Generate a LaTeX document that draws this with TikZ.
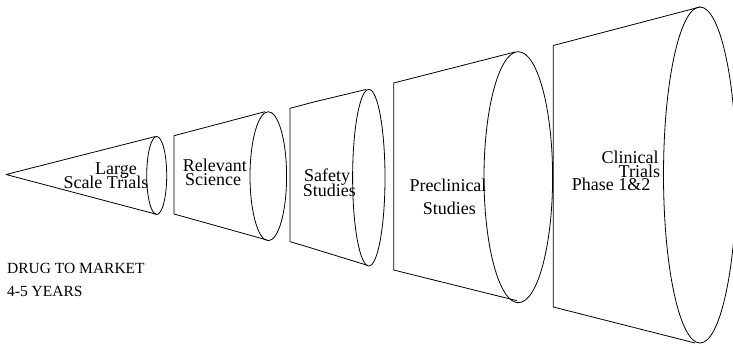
\documentclass[tikz,border=0pt]{standalone}
\usepackage{fontspec}
\setmainfont{Liberation Serif}
\begin{document}
\begin{tikzpicture}[x=1pt,y=-1pt,
  outline/.style={draw=black,line width=0.8pt,line join=round},
  lbl/.style={anchor=base west,inner sep=0pt,font=\fontsize{18}{18}\selectfont},
  note/.style={anchor=base west,inner sep=0pt,font=\fontsize{15.5}{15.5}\selectfont}]
\useasboundingbox (0,0) rectangle (733,344);
\clip (0,0) rectangle (733,344);
% cone
\coordinate (apex) at (6,174.5);
\draw[outline] (155.5,136.5) -- (apex) -- (156.5,214.3);
\draw[outline] (156.7,175.5) ellipse [x radius=10, y radius=39];
% Relevant Science
\draw[outline] (265,111.7) -- (174,135.7) -- (174,214) -- (267,240);
\draw[outline] (268.3,176.2) ellipse [x radius=18.3, y radius=64.5];
% Safety Studies
\draw[outline] (366,89.5) -- (315,101.7) -- (290,108.3) -- (290,241.7) -- (307,246.7) -- (368,265.5);
\draw[outline] (368.8,177.7) ellipse [x radius=16.2, y radius=88.3];
% Preclinical Studies
\draw[outline] (515,52) -- (393.7,83) -- (393.7,270) -- (517,300.7);
\draw[outline] (518.3,177.2) ellipse [x radius=34.3, y radius=125.5];
% Clinical Trials
\draw[outline] (700,7) -- (553.3,45.5) -- (553.3,307) -- (695,343);
\draw[outline] (700,175) ellipse [x radius=36.5, y radius=168];
% labels
\node[lbl] (l1a) at (95,175) {Large};
\node[lbl] (l1b) at (63.3,189) {Scale Trials};
\node[lbl] (l2a) at (182.7,171.7) {Relevant};
\node[lbl] (l2b) at (185,185.5) {Science};
\node[lbl] (l3a) at (304,181.7) {Safety};
\node[lbl] (l3b) at (302.7,197) {Studies};
\node[lbl] (l4a) at (409.3,191.7) {Preclinical};
\node[lbl] (l4b) at (422.7,215) {Studies};
\node[lbl] (l5a) at (601.5,164) {Clinical};
\node[lbl] (l5b) at (618.5,177.3) {Trials};
\node[lbl] (l5c) at (571.7,190.7) {Phase 1\&2};
\node[note] (n1) at (7,273.3) {DRUG TO MARKET};
\node[note] (n2) at (7,296.7) {4-5 YEARS};
\end{tikzpicture}
\end{document}
